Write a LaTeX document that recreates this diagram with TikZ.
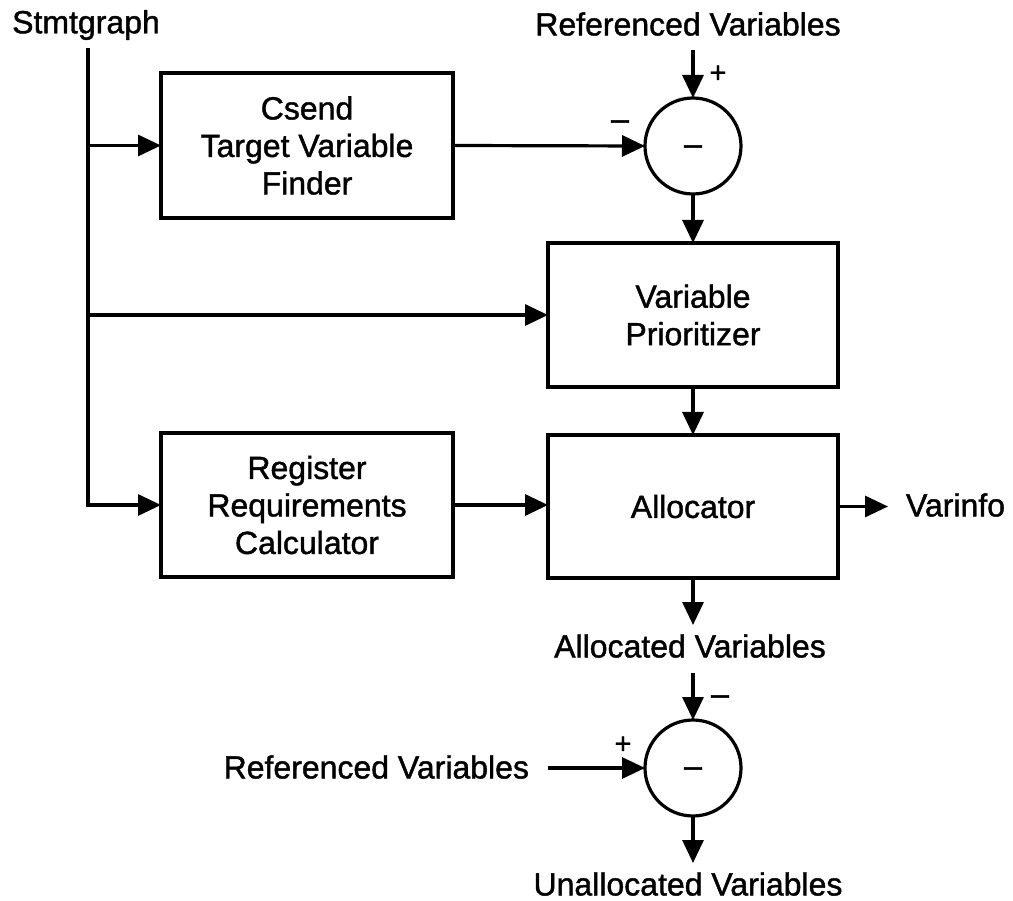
\documentclass[tikz,border=0pt]{standalone}
\usepackage{fontspec}
\setmainfont{Liberation Sans}
\newfontfamily\heavy{Liberation Sans}[FakeBold=1.3]
\usetikzlibrary{arrows.meta}
\begin{document}
\begin{tikzpicture}[x=1pt,y=-1pt,
  every node/.style={inner sep=0pt,outer sep=0pt},
  lbl/.style={font=\heavy\fontsize{32}{37.5}\selectfont,align=center},
  sgn/.style={font=\heavy\fontsize{29}{30}\selectfont},
  blk/.style={draw,line width=3.2pt,minimum width=290pt,minimum height=144pt,font=\heavy\fontsize{32}{37.5}\selectfont,align=center},
  sumc/.style={draw,circle,line width=3.2pt,minimum size=96pt,font=\heavy\fontsize{32}{37.5}\selectfont},
  conn/.style={line width=3.2pt,-{Triangle[length=23pt,width=21pt]}}]
\useasboundingbox (0,0) rectangle (1013,901);
% texts
\node[lbl] (stmt) at (86,25) {Stmtgraph};
\node[lbl] (ref1) at (688,24) {Referenced Variables};
\node[lbl,anchor=west] (varinfo) at (906,505) {Varinfo};
\node[lbl] (allocv) at (690,646) {Allocated Variables};
\node[lbl,anchor=east] (ref2) at (529,767) {Referenced Variables};
\node[lbl] (unalloc) at (688,884) {Unallocated Variables};
% blocks
\node[blk,minimum width=292pt,minimum height=145pt] (csend) at (307,145.5) {Csend\\Target Variable\\Finder};
\node[blk,minimum width=292pt] (rrc) at (307,505) {Register\\Requirements\\Calculator};
\node[blk] (vp) at (693,315) {Variable\\Prioritizer};
\node[blk,minimum height=143pt] (alloc) at (693,506.5) {Allocator};
\node[sumc] (sum1) at (693,146) {\raisebox{-8.6pt}[0pt][0pt]{–}};
\node[sumc] (sum2) at (693,768) {\raisebox{-8.6pt}[0pt][0pt]{–}};
% signs
\node[sgn] (p1) at (718,74) {+};
\node[lbl] (m1) at (620,125) {–};
\node[lbl] (m2) at (720,700) {–};
\node[sgn] (p2) at (623,745) {+};
% free ends
\coordinate (s0) at (88,48);
\coordinate (s1) at (88,145.5);
\coordinate (s2) at (88,315);
\coordinate (r1) at (693,50);
\coordinate (vout) at (888,506.5);
\coordinate (aout) at (693,625);
\coordinate (ain) at (693,673);
\coordinate (r2) at (548,768);
\coordinate (uout) at (693,863);
% connectors
\draw[conn] (s0) |- (rrc.west);
\draw[conn] (s1) -- (csend.west);
\draw[conn] (s2) -- (vp.west);
\draw[conn] (csend.east) -- (sum1.west);
\draw[conn] (r1) -- (sum1.north);
\draw[conn] (sum1.south) -- (vp.north);
\draw[conn] (vp.south) -- (alloc.north);
\draw[conn] (rrc.east) -- (alloc.west |- rrc.east);
\draw[conn] (alloc.east) -- (vout);
\draw[conn] (alloc.south) -- (aout);
\draw[conn] (ain) -- (sum2.north);
\draw[conn] (r2) -- (sum2.west);
\draw[conn] (sum2.south) -- (uout);
\end{tikzpicture}
\end{document}
